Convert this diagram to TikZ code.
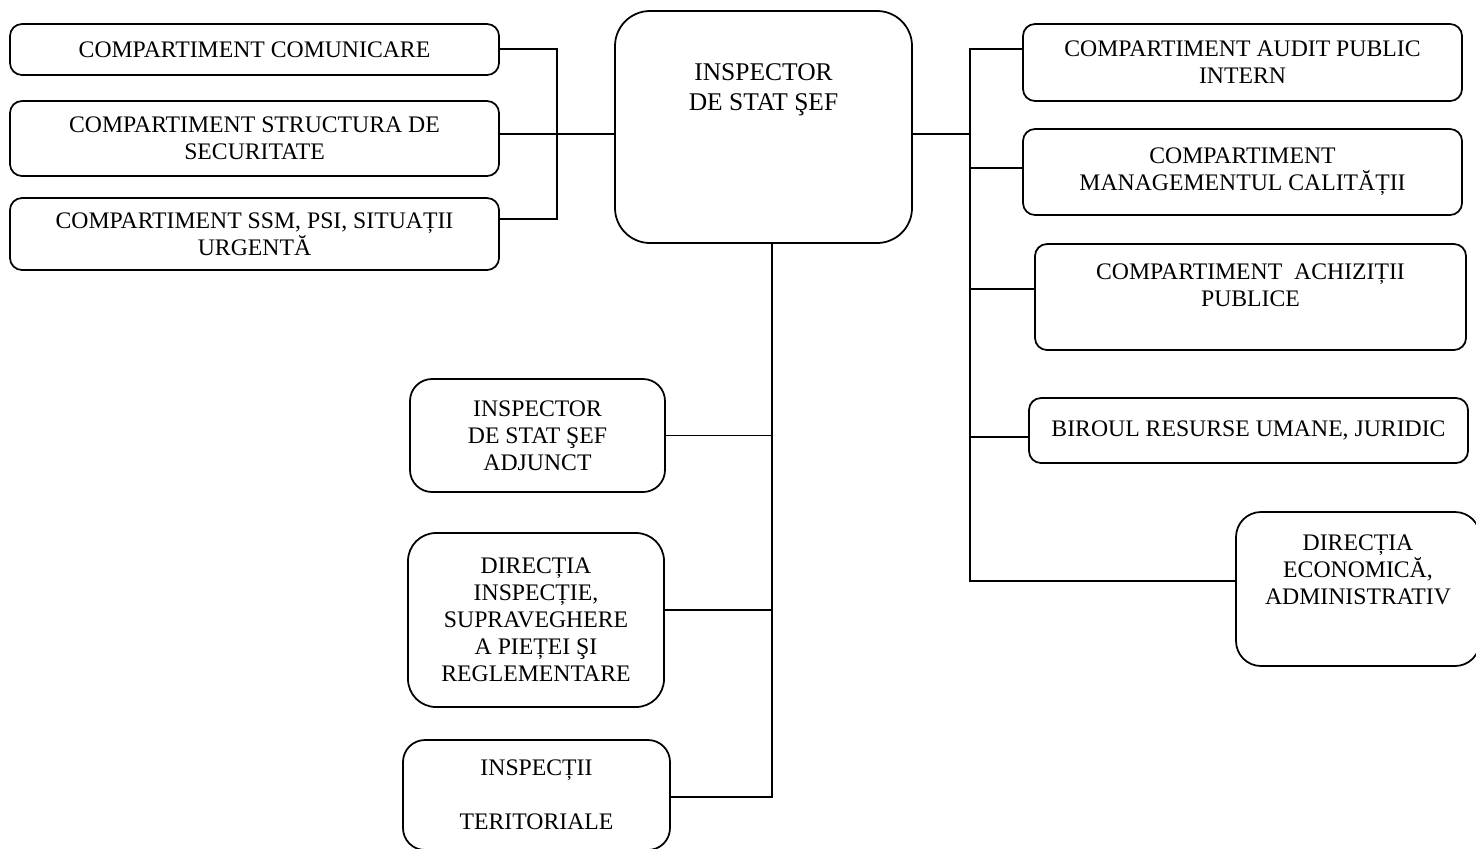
\documentclass[tikz,border=0pt]{standalone}
\usepackage{fontspec}
\setmainfont{Liberation Serif}
\begin{document}
\begin{tikzpicture}[x=0.2mm, y=-0.2mm, line width=1pt,
  box/.style={draw, rounded corners=2.4mm, align=center, inner sep=0pt, font=\fontsize{13.5}{15.3}\selectfont},
  txt/.style={align=center, inner sep=0pt, font=\fontsize{13.5}{15.3}\selectfont}]
\useasboundingbox (0,0) rectangle (1476,848);
% head
\node[box, rounded corners=7mm, minimum width=59.4mm, minimum height=46.4mm] (chief) at (763.5,127) {};
\node[txt, font=\fontsize{14.5}{17}\selectfont] (chieft) at (763.5,90) {INSPECTOR\\DE STAT ŞEF};
% left compartments
\node[box, minimum width=97.8mm, minimum height=10.2mm] (comm) at (254.5,49.5) {COMPARTIMENT COMUNICARE};
\node[box, minimum width=97.8mm, minimum height=15mm] (secur) at (254.5,138.5) {COMPARTIMENT STRUCTURA DE\\SECURITATE};
\node[box, minimum width=97.8mm, minimum height=14.4mm] (ssm) at (254.5,234) {COMPARTIMENT SSM, PSI, SITUAȚII\\URGENTĂ};
% right compartments
\node[box, minimum width=87.8mm, minimum height=15.4mm] (audit) at (1242.5,62.5) {COMPARTIMENT AUDIT PUBLIC\\INTERN};
\node[box, minimum width=87.8mm, minimum height=17.2mm] (calit) at (1242.5,172) {COMPARTIMENT\\MANAGEMENTUL CALITĂȚII};
\node[box, minimum width=86.2mm, minimum height=21.2mm] (achiz) at (1250.5,297) {};
\node[txt] (achizt) at (1250.5,285.5) {COMPARTIMENT\ \ ACHIZIȚII\\PUBLICE};
\node[box, minimum width=87.8mm, minimum height=13mm] (birou) at (1248.5,430.5) {BIROUL RESURSE UMANE, JURIDIC};
\node[box, rounded corners=5mm, minimum width=48.8mm, minimum height=30.8mm] (econ) at (1358,589) {};
\node[txt] (econt) at (1358,569.5) {DIRECȚIA\\ECONOMICĂ,\\ADMINISTRATIV};
% lower branches
\node[box, rounded corners=4.4mm, minimum width=51mm, minimum height=22.6mm] (adj) at (537.5,435.5) {INSPECTOR\\DE STAT ŞEF\\ADJUNCT};
\node[box, rounded corners=5.6mm, minimum width=51.2mm, minimum height=34.8mm] (insp) at (536,620) {DIRECȚIA\\INSPECȚIE,\\SUPRAVEGHERE\\A PIEȚEI ŞI\\REGLEMENTARE};
\node[box, rounded corners=4.4mm, minimum width=53.4mm, minimum height=22mm] (terit) at (536.5,795) {INSPECȚII\\[15.3pt]TERITORIALE};
% buses
\coordinate (ltop) at (557,49);
\coordinate (lmid) at (557,134);
\coordinate (lbot) at (557,219);
\coordinate (rtop) at (970,49);
\coordinate (rbot) at (970,581);
\coordinate (vbot) at (772,797);
\draw (comm.east |- ltop) -- (ltop) -- (lbot) -- (lbot -| ssm.east);
\draw (lmid -| secur.east) -- (lmid -| chief.west);
\draw (lmid -| chief.east) -- (lmid -| rtop);
\draw (audit.west |- rtop) -- (rtop) -- (rbot) -- (rbot -| econ.west);
\draw ([yshift=0.8mm]calit.west) -- ([yshift=0.8mm]calit.west -| rtop);
\draw ([yshift=1.6mm]achiz.west) -- ([yshift=1.6mm]achiz.west -| rtop);
\draw ([yshift=-1.3mm]birou.west) -- ([yshift=-1.3mm]birou.west -| rtop);
\draw (vbot |- chief.south) -- (vbot) -- (vbot -| terit.east);
\draw (adj.east) -- (adj.east -| vbot);
\draw ([yshift=2mm]insp.east) -- ([yshift=2mm]insp.east -| vbot);
\end{tikzpicture}
\end{document}
